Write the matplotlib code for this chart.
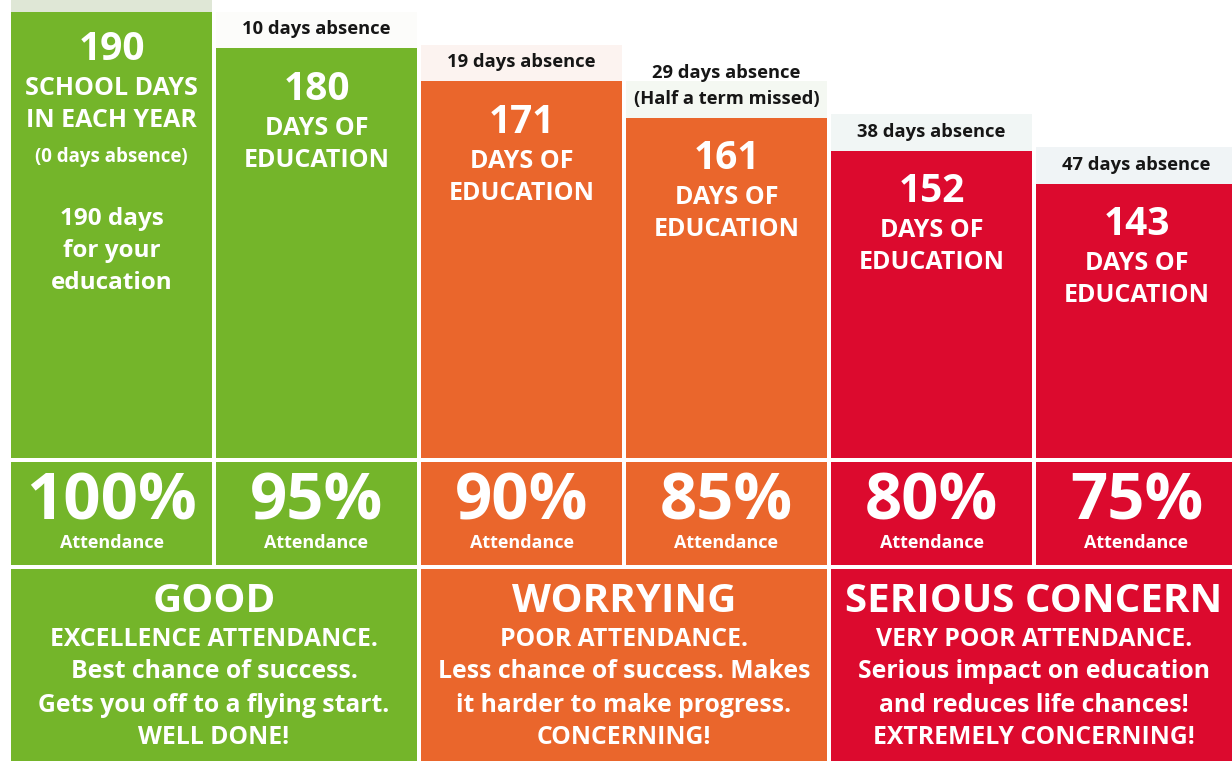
import matplotlib
matplotlib.use("Agg")
import matplotlib.pyplot as plt
from matplotlib import font_manager as fm
from matplotlib.patches import Rectangle

# days of education left for each attendance level
attendance = [100, 95, 90, 85, 80, 75]
days = [190, 180, 171, 161, 152, 143]
absence = ["", "10 days absence", "19 days absence",
           "29 days absence\n(Half a term missed)",
           "38 days absence", "47 days absence"]
first_col = ["SCHOOL DAYS", "IN EACH YEAR", "(0 days absence)",
             "190 days", "for your", "education"]
groups = ["GOOD", "WORRYING", "SERIOUS CONCERN"]
group_lines = [
    ["EXCELLENCE ATTENDANCE.", "Best chance of success.",
     "Gets you off to a flying start.", "WELL DONE!"],
    ["POOR ATTENDANCE.", "Less chance of success. Makes",
     "it harder to make progress.", "CONCERNING!"],
    ["VERY POOR ATTENDANCE.", "Serious impact on education",
     "and reduces life chances!", "EXTREMELY CONCERNING!"],
]

GREEN, ORANGE, RED = "#74b52a", "#ea662c", "#dc0a2e"
col_colors = [GREEN, GREEN, ORANGE, ORANGE, RED, RED]
grp_colors = [GREEN, ORANGE, RED]
tints = ["#dfe7d6", "#fcfcfa", "#fcf3f0", "#f4f8f2", "#f1f6f5", "#f0f4f6"]


# pick a humanist sans that actually ships a bold face
def bold_family():
    for name in ["Noto Sans", "Open Sans", "Lato", "Roboto", "DejaVu Sans"]:
        for f in fm.fontManager.ttflist:
            if f.name == name and isinstance(f.weight, int) and f.weight >= 600:
                return name
            if f.name == name and f.weight in ("bold", "heavy", "black", "semibold", "demibold"):
                return name
    return "DejaVu Sans"


FAM = bold_family()
plt.rcParams["font.family"] = [FAM, "DejaVu Sans"]
plt.rcParams["font.weight"] = "bold"

W, H = 1232, 761
fig = plt.figure(figsize=(W / 100, H / 100), dpi=100)
fig.patch.set_facecolor("white")

x = list(range(len(days)))
bw = 0.985
xlim = (-111.5 / 205, (W - 111.5) / 205)

# upper part: bars whose tops follow the days of education
ax = fig.add_axes([0, 303 / H, 1, 458 / H])
ax.set_xlim(*xlim)
ax.set_ylim(68.0, 193.2)
ax.axis("off")
ax.bar(x, [10] * len(days), bottom=days, width=bw, color=tints, zorder=1)
ax.bar(x, days, width=bw, color=col_colors, zorder=2)

PT = 0.72  # px -> pt at 100 dpi


def put(s, i, off_px, size, color="white"):
    ax.annotate(s, xy=(i, days[i]), xytext=(0, -off_px * PT),
                textcoords="offset points", ha="center", va="center",
                fontsize=size, color=color, fontweight="bold", zorder=3)


# first column
put(str(days[0]), 0, 38, 28)
for k, (s, off) in enumerate(zip(first_col, [77, 109, 145, 207, 239, 271])):
    put(s, 0, off, 13.5 if k == 2 else (18 if k < 2 else 17.5))

for i in range(1, len(days)):
    put(str(days[i]), i, 41, 28)
    put("DAYS OF", i, 80, 18)
    put("EDUCATION", i, 112, 18)
    lines = absence[i].split("\n")
    for k, s in enumerate(reversed(lines)):
        put(s, i, -19 - 26 * k, 13.2, color="#161616")

# lower part: attendance row and verdict row
axb = fig.add_axes([0, 0, 1, 300 / H])
axb.set_xlim(*xlim)
axb.set_ylim(0, 300)
axb.axis("off")

for i, a in enumerate(attendance):
    axb.add_patch(Rectangle((i - bw / 2, 196), bw, 103, color=col_colors[i], lw=0))
    axb.text(i, 258, f"{a}%", ha="center", va="center", fontsize=47,
             color="white", fontweight="bold")
    axb.text(i, 218, "Attendance", ha="center", va="center", fontsize=13,
             color="white", fontweight="bold")

for g, title in enumerate(groups):
    axb.add_patch(Rectangle((2 * g - bw / 2, 0), 1 + bw, 192,
                            color=grp_colors[g], lw=0))
    cx = 2 * g + 0.5
    axb.text(cx, 159, title, ha="center", va="center", fontsize=29,
             color="white", fontweight="bold")
    for k, s in enumerate(group_lines[g]):
        axb.text(cx, 122 - 33 * k, s, ha="center", va="center", fontsize=17.8,
                 color="white", fontweight="bold")

fig.savefig("out.png", dpi=100)
